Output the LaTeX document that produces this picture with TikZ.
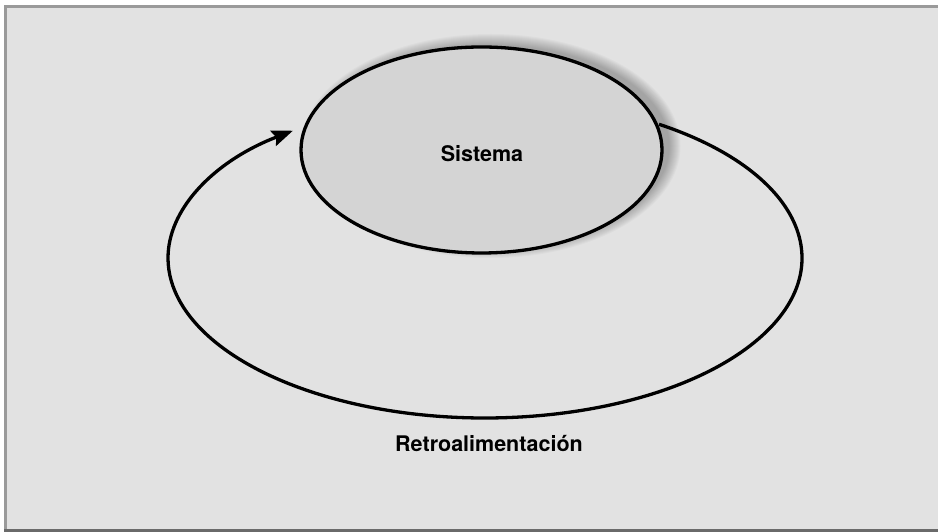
\documentclass[tikz,border=0pt]{standalone}
\usepackage{fontspec}
\setmainfont{TeX Gyre Heros}
\usetikzlibrary{arrows.meta,shapes.geometric,calc}
\definecolor{bg}{HTML}{E2E2E2}
\definecolor{frameg}{HTML}{9A9A9A}
\definecolor{framed}{HTML}{6A6A6A}
\definecolor{sysfill}{HTML}{D4D4D4}
\tikzset{
  lbl/.style={font=\fontsize{21.5}{25}\selectfont\bfseries, anchor=base, inner sep=0pt},
  sysnode/.style={ellipse, minimum width=361pt, minimum height=206pt, inner sep=0pt,
    fill=sysfill, draw=black, line width=3.3pt},
  loopline/.style={line width=3.3pt, draw=black},
}
\begin{document}
\begin{tikzpicture}[x=1pt,y=1pt]
\useasboundingbox (0,0) rectangle (938,532);
\fill[white] (0,0) rectangle (938,532);
\fill[frameg] (4,0) rectangle (938,527);
\fill[bg] (7,3) rectangle (938,524);
\fill[framed] (4,0) rectangle (938,3);
% shadow
\foreach \i in {0,...,11}{
  \fill[black, opacity=0.022] (491,386) ellipse ({180.5+9-\i} and {103+9-\i});
}
% feedback loop
\coordinate (cen) at (485,274);
\coordinate (start) at ($(cen)+(56.7:317 and 160)$);
\draw[loopline, -{Stealth[length=21pt,width=16pt,inset=3pt]}]
  (start) arc[start angle=56.7, end angle=-232.7, x radius=317, y radius=160] coordinate (tip);
% system
\node[sysnode] (sys) at (481.5,382) {};
\node[lbl] (syslbl) at (482,370) {Sistema};
\node[lbl] (fb) at (489,80) {Retroalimentación};
\end{tikzpicture}
\end{document}
